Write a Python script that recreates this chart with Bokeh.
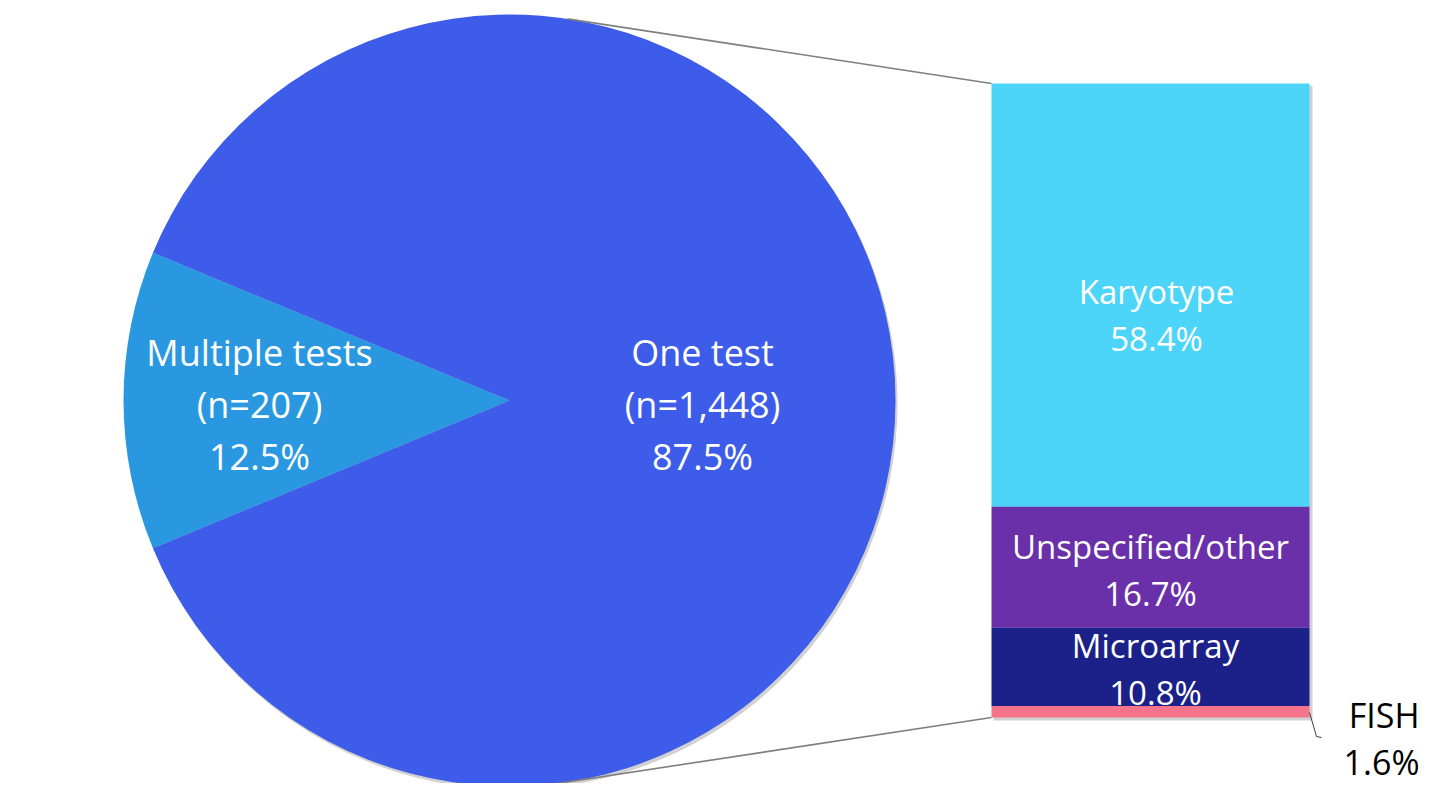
import math
from bokeh.plotting import figure
from bokeh.models import Range1d
from bokeh.core.properties import value
from bokeh.embed import file_html
from bokeh.resources import INLINE

# ---- data ----
pie_labels = ["Multiple tests", "One test"]
pie_counts = [207, 1448]
pie_pcts = [12.5, 87.5]
pie_colors = ["#2A98E1", "#3C5CE9"]

bar_labels = ["Karyotype", "Unspecified/other", "Microarray", "FISH"]
bar_pcts = [58.4, 16.7, 10.8, 1.6]
bar_colors = ["#4DD5F9", "#6A30A9", "#1B2188", "#F5738B"]

# ---- layout (image pixel space; y measured downward) ----
W, H = 1424, 783
FONT = value("Open Sans")
FS_PIE = "36px"
FS_BAR = "33px"

def Y(img_y):
    return 791 - img_y

p = figure(width=W, height=H, output_backend="svg", toolbar_location=None,
           x_range=Range1d(0, W), y_range=Range1d(791 - H, 791),
           min_border=0)
p.axis.visible = False
p.grid.visible = False
p.outline_line_color = None
p.background_fill_color = "white"
p.border_fill_color = "white"

cx, cy, r = 509, 400, 386

# shadow
p.circle(x=cx + 2, y=Y(cy + 3), radius=r, fill_color="#9a9a9a", fill_alpha=0.45, line_color=None)

# pie wedges: first slice centered on left (pi)
total = sum(pie_counts)
frac0 = pie_counts[0] / total
half = frac0 * math.pi
starts = [math.pi - half, math.pi + half]
ends = [math.pi + half, math.pi - half + 2 * math.pi]
for s, e, c in zip(starts, ends, pie_colors):
    p.wedge(x=cx, y=Y(cy), radius=r, start_angle=s, end_angle=e,
            fill_color=c, line_color=None)

# pie labels
pie_label_pos = [(259, 352), (702, 352)]
for lab, n, pct, (lx, ly) in zip(pie_labels, pie_counts, pie_pcts, pie_label_pos):
    lines = [lab, f"(n={n:,})", f"{pct:.1f}%"]
    for i, t in enumerate(lines):
        p.text(x=[lx], y=[Y(ly + i * 52)], text=[t], text_font=FONT, text_font_size=FS_PIE,
               text_color="white", text_align="center", text_baseline="middle")

# bar
bx0, bx1, btop, bbot = 991, 1309, 83, 717
scale = (bbot - btop) / sum(bar_pcts)
tops, bots = [], []
acc = btop
for v in bar_pcts:
    tops.append(acc)
    acc += v * scale
    bots.append(acc)

# bar shadow
p.quad(left=bx0 + 2, right=bx1 + 3, top=Y(btop + 2), bottom=Y(bbot + 3),
       fill_color="#9a9a9a", fill_alpha=0.45, line_color=None)
p.quad(left=[bx0] * len(bar_pcts), right=[bx1] * len(bar_pcts),
       top=[Y(t) for t in tops], bottom=[Y(b) for b in bots],
       fill_color=bar_colors, line_color=None)

# connector lines
a_top = math.radians(81.4)
p.line(x=[cx + r * math.cos(a_top), bx0], y=[Y(cy - r * math.sin(a_top)), Y(btop)],
       line_color="#7f7f7f", line_width=1.6)
a_bot = math.radians(83.0)
p.line(x=[cx + r * math.cos(a_bot), bx0], y=[Y(cy + r * math.sin(a_bot)), Y(bbot)],
       line_color="#7f7f7f", line_width=1.6)

# bar labels
label_dy = [19, 2, 2, 0]
label_x = [1156, 1150, 1155]
for i, (lab, pct) in enumerate(zip(bar_labels[:3], bar_pcts[:3])):
    mid = (tops[i] + bots[i]) / 2 + label_dy[i]
    p.text(x=[label_x[i]], y=[Y(mid - 23)], text=[lab], text_font=FONT, text_font_size=FS_BAR,
           text_color="white", text_align="center", text_baseline="middle")
    p.text(x=[label_x[i]], y=[Y(mid + 24)], text=[f"{pct:.1f}%"], text_font=FONT, text_font_size=FS_BAR,
           text_color="white", text_align="center", text_baseline="middle")

# FISH outside label with leader
p.line(x=[1309, 1316, 1321], y=[Y(712), Y(736), Y(737)], line_color="#404040", line_width=1)
p.text(x=[1419], y=[Y(714)], text=[bar_labels[3]], text_font=FONT, text_font_size="34px",
       text_color="black", text_align="right", text_baseline="middle")
p.text(x=[1419], y=[Y(761)], text=[f"{bar_pcts[3]:.1f}%"], text_font=FONT, text_font_size="34px",
       text_color="black", text_align="right", text_baseline="middle")

open("out.html", "w").write(file_html(p, INLINE))
